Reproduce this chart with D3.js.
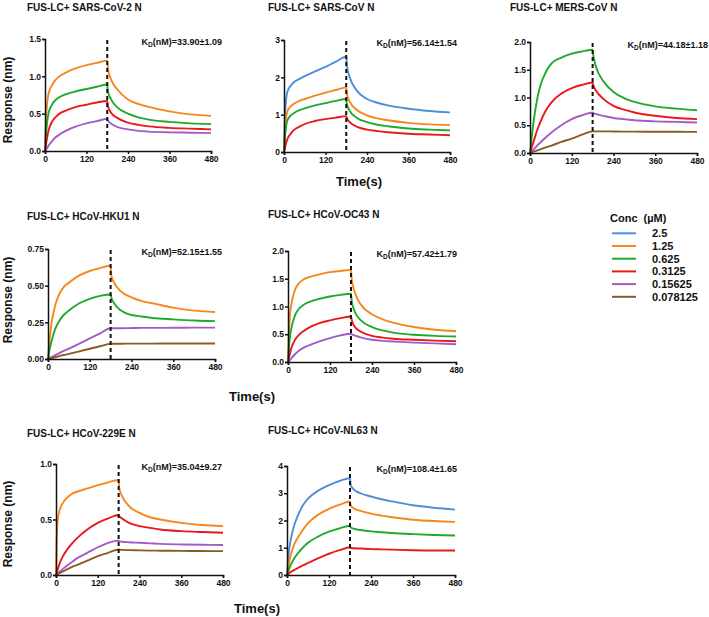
<!DOCTYPE html>
<html>
<head>
<meta charset="utf-8">
<script src="https://cdn.jsdelivr.net/npm/d3@7"></script>
<style>
  body { margin: 0; background: #fff; }
  text { font-family: Arial, "Liberation Sans", sans-serif; font-weight: bold; fill: #111; }
</style>
</head>
<body>
<div id="chart"></div>
<script>
// sample times (s), association 0-180, dissociation 180-480
const times = [0, 2, 5, 10, 20, 30, 45, 60, 90, 120, 150, 180, 182, 190, 210, 240, 270, 300, 360, 420, 480]
const xTicks = [0, 120, 240, 360, 480]
const concLabels = ["2.5", "1.25", "0.625", "0.3125", "0.15625", "0.078125"]
const concColors = ["#4d8fd6", "#f7861c", "#1faa2e", "#e8191c", "#a25cc6", "#8c5a26"]

// SARS-CoV-2
const sars2_125 = [0, 0.3, 0.58, 0.76, 0.88, 0.95, 1.01, 1.05, 1.11, 1.15, 1.18, 1.21, 1.1, 0.97, 0.82, 0.69, 0.63, 0.59, 0.53, 0.49, 0.47]
const sars2_0625 = [0, 0.15, 0.33, 0.5, 0.62, 0.68, 0.73, 0.76, 0.8, 0.83, 0.86, 0.89, 0.8, 0.7, 0.58, 0.5, 0.45, 0.42, 0.39, 0.37, 0.36]
const sars2_03125 = [0, 0.06, 0.15, 0.27, 0.39, 0.45, 0.51, 0.54, 0.59, 0.62, 0.65, 0.67, 0.6, 0.52, 0.44, 0.38, 0.35, 0.33, 0.31, 0.3, 0.29]
const sars2_015625 = [0, 0.01, 0.03, 0.07, 0.13, 0.18, 0.23, 0.27, 0.33, 0.37, 0.4, 0.43, 0.41, 0.37, 0.32, 0.29, 0.27, 0.26, 0.25, 0.245, 0.24]

// SARS-CoV
const sars_25 = [0, 0.7, 1.3, 1.62, 1.78, 1.88, 1.96, 2.03, 2.16, 2.28, 2.42, 2.55, 2.3, 2.0, 1.65, 1.42, 1.32, 1.25, 1.16, 1.1, 1.06]
const sars_125 = [0, 0.4, 0.85, 1.1, 1.23, 1.3, 1.37, 1.42, 1.51, 1.59, 1.66, 1.73, 1.55, 1.35, 1.13, 0.98, 0.9, 0.85, 0.78, 0.74, 0.72]
const sars_0625 = [0, 0.3, 0.62, 0.85, 0.98, 1.05, 1.12, 1.17, 1.25, 1.31, 1.37, 1.42, 1.28, 1.1, 0.92, 0.8, 0.73, 0.69, 0.63, 0.6, 0.58]
const sars_03125 = [0, 0.08, 0.2, 0.35, 0.5, 0.6, 0.68, 0.75, 0.83, 0.88, 0.92, 0.96, 0.9, 0.8, 0.68, 0.6, 0.56, 0.53, 0.49, 0.47, 0.45]

// MERS-CoV
const mers_0625 = [0, 0.1, 0.28, 0.55, 0.95, 1.22, 1.45, 1.6, 1.72, 1.79, 1.83, 1.86, 1.76, 1.55, 1.3, 1.1, 0.99, 0.92, 0.84, 0.8, 0.77]
const mers_03125 = [0, 0.04, 0.1, 0.2, 0.4, 0.56, 0.76, 0.9, 1.07, 1.17, 1.23, 1.27, 1.22, 1.12, 0.98, 0.85, 0.78, 0.73, 0.67, 0.63, 0.61]
const mers_015625 = [0, 0.01, 0.03, 0.06, 0.13, 0.19, 0.28, 0.36, 0.5, 0.61, 0.68, 0.73, 0.72, 0.7, 0.67, 0.63, 0.61, 0.59, 0.57, 0.56, 0.55]
const mers_0078 = [0, 0.005, 0.012, 0.024, 0.045, 0.066, 0.1, 0.13, 0.2, 0.26, 0.33, 0.39, 0.39, 0.39, 0.39, 0.388, 0.386, 0.385, 0.383, 0.382, 0.38]

// HCoV-HKU1
const hku1_125 = [0, 0.06, 0.14, 0.24, 0.36, 0.43, 0.49, 0.52, 0.57, 0.6, 0.62, 0.637, 0.57, 0.52, 0.46, 0.42, 0.395, 0.38, 0.35, 0.33, 0.32]
const hku1_0625 = [0, 0.03, 0.07, 0.12, 0.2, 0.25, 0.3, 0.33, 0.38, 0.41, 0.43, 0.44, 0.42, 0.38, 0.33, 0.3, 0.29, 0.28, 0.27, 0.262, 0.258]
const hku1_015625 = [0, 0.003, 0.007, 0.013, 0.025, 0.037, 0.055, 0.07, 0.105, 0.14, 0.175, 0.21, 0.21, 0.21, 0.21, 0.211, 0.212, 0.212, 0.213, 0.214, 0.214]
const hku1_0078 = [0, 0.001, 0.003, 0.006, 0.012, 0.018, 0.027, 0.035, 0.052, 0.07, 0.087, 0.103, 0.103, 0.104, 0.104, 0.105, 0.105, 0.105, 0.106, 0.106, 0.106]

// HCoV-OC43
const oc43_125 = [0, 0.4, 0.8, 1.05, 1.3, 1.41, 1.49, 1.53, 1.58, 1.62, 1.64, 1.66, 1.5, 1.27, 1.02, 0.86, 0.77, 0.71, 0.63, 0.58, 0.555]
const oc43_0625 = [0, 0.2, 0.42, 0.62, 0.84, 0.95, 1.03, 1.08, 1.14, 1.18, 1.21, 1.23, 1.1, 0.92, 0.74, 0.63, 0.57, 0.53, 0.49, 0.47, 0.46]
const oc43_03125 = [0, 0.06, 0.14, 0.26, 0.4, 0.48, 0.56, 0.62, 0.7, 0.75, 0.79, 0.82, 0.76, 0.64, 0.54, 0.47, 0.44, 0.42, 0.4, 0.385, 0.375]
const oc43_015625 = [0, 0.01, 0.03, 0.07, 0.14, 0.2, 0.26, 0.3, 0.37, 0.43, 0.48, 0.51, 0.5, 0.48, 0.44, 0.4, 0.38, 0.37, 0.35, 0.335, 0.32]

// HCoV-229E
const e229_125 = [0, 0.3, 0.5, 0.58, 0.65, 0.69, 0.73, 0.75, 0.78, 0.81, 0.835, 0.856, 0.78, 0.71, 0.62, 0.56, 0.52, 0.5, 0.47, 0.45, 0.44]
const e229_03125 = [0, 0.02, 0.05, 0.1, 0.17, 0.22, 0.28, 0.33, 0.41, 0.47, 0.51, 0.54, 0.53, 0.51, 0.47, 0.44, 0.425, 0.41, 0.395, 0.387, 0.38]
const e229_015625 = [0, 0.005, 0.013, 0.027, 0.055, 0.08, 0.115, 0.15, 0.2, 0.25, 0.29, 0.31, 0.305, 0.3, 0.295, 0.29, 0.285, 0.28, 0.275, 0.272, 0.27]
const e229_0078 = [0, 0.003, 0.008, 0.016, 0.032, 0.048, 0.07, 0.09, 0.13, 0.17, 0.2, 0.23, 0.228, 0.226, 0.224, 0.222, 0.22, 0.219, 0.217, 0.216, 0.215]

// HCoV-NL63
const nl63_25 = [0, 0.35, 0.8, 1.25, 1.8, 2.15, 2.55, 2.8, 3.1, 3.3, 3.45, 3.55, 3.3, 3.15, 3.0, 2.88, 2.78, 2.7, 2.56, 2.47, 2.4]
const nl63_125 = [0, 0.15, 0.38, 0.7, 1.1, 1.35, 1.65, 1.9, 2.22, 2.43, 2.58, 2.7, 2.55, 2.45, 2.35, 2.25, 2.18, 2.12, 2.03, 1.98, 1.95]
const nl63_0625 = [0, 0.07, 0.18, 0.35, 0.6, 0.78, 1.0, 1.18, 1.42, 1.59, 1.71, 1.81, 1.75, 1.7, 1.65, 1.6, 1.57, 1.54, 1.5, 1.47, 1.45]
const nl63_03125 = [0, 0.02, 0.05, 0.1, 0.18, 0.25, 0.35, 0.44, 0.62, 0.78, 0.91, 1.02, 1.0, 0.98, 0.97, 0.95, 0.94, 0.93, 0.91, 0.9, 0.9]

// panels: series are [concentration index, values]
const panels = [
  { title: "FUS-LC+ SARS-CoV-2 N", kd: "33.90±1.09", yTicks: [0, 0.5, 1.0, 1.5], fmt: ".1f",
    series: [[1, sars2_125], [2, sars2_0625], [3, sars2_03125], [4, sars2_015625]] },
  { title: "FUS-LC+ SARS-CoV N", kd: "56.14±1.54", yTicks: [0, 1, 2, 3], fmt: "d",
    series: [[0, sars_25], [1, sars_125], [2, sars_0625], [3, sars_03125]] },
  { title: "FUS-LC+ MERS-CoV N", kd: "44.18±1.18", yTicks: [0, 0.5, 1.0, 1.5, 2.0], fmt: ".1f",
    series: [[2, mers_0625], [3, mers_03125], [4, mers_015625], [5, mers_0078]] },
  { title: "FUS-LC+ HCoV-HKU1 N", kd: "52.15±1.55", yTicks: [0, 0.25, 0.5, 0.75], fmt: ".2f",
    series: [[1, hku1_125], [2, hku1_0625], [4, hku1_015625], [5, hku1_0078]] },
  { title: "FUS-LC+ HCoV-OC43 N", kd: "57.42±1.79", yTicks: [0, 0.5, 1.0, 1.5, 2.0], fmt: ".1f",
    series: [[1, oc43_125], [2, oc43_0625], [3, oc43_03125], [4, oc43_015625]] },
  { title: "FUS-LC+ HCoV-229E N", kd: "35.04±9.27", yTicks: [0, 0.5, 1.0], fmt: ".1f",
    series: [[1, e229_125], [3, e229_03125], [4, e229_015625], [5, e229_0078]] },
  { title: "FUS-LC+ HCoV-NL63 N", kd: "108.4±1.65", yTicks: [0, 1, 2, 3, 4], fmt: "d",
    series: [[0, nl63_25], [1, nl63_125], [2, nl63_0625], [3, nl63_03125]] }
]

// where each panel sits on the page
const layout = [
  { l: 45, r: 211, t: 39, b: 151, titleX: 27, titleY: 11, kdX: 222 },
  { l: 284, r: 450, t: 40, b: 152, titleX: 268, titleY: 11, kdX: 457 },
  { l: 530, r: 697, t: 42, b: 153, titleX: 510, titleY: 11, kdX: 708 },
  { l: 48, r: 215, t: 249, b: 359, titleX: 27, titleY: 220, kdX: 222 },
  { l: 288, r: 456, t: 251, b: 362, titleX: 268, titleY: 218, kdX: 457 },
  { l: 56, r: 223, t: 464, b: 575, titleX: 27, titleY: 437, kdX: 222 },
  { l: 287, r: 455, t: 466, b: 575, titleX: 268, titleY: 434, kdX: 457 }
]

const w = 709
const h = 617

const svg = d3.select("#chart")
  .append("svg")
  .attr("width", w)
  .attr("height", h)
  .style("background-color", "white")

panels.forEach((p, i) => {
  const pos = layout[i]
  const x = d3.scaleLinear().domain([0, 480]).range([pos.l, pos.r])
  const yMax = p.yTicks[p.yTicks.length - 1]
  const y = d3.scaleLinear().domain([0, yMax]).range([pos.b, pos.t])

  const g = svg.append("g")

  // title
  g.append("text")
    .attr("x", pos.titleX)
    .attr("y", pos.titleY)
    .style("font-size", "10px")
    .text(p.title)

  // curves
  const line = d3.line()
    .x((d, j) => x(times[j]))
    .y(d => y(d))
    .curve(d3.curveMonotoneX)

  p.series.forEach(s => {
    g.append("path")
      .datum(s[1])
      .attr("d", line)
      .attr("fill", "none")
      .attr("stroke", concColors[s[0]])
      .attr("stroke-width", 1.9)
  })

  // dashed line at end of association
  g.append("line")
    .attr("x1", x(180)).attr("x2", x(180))
    .attr("y1", y(yMax) + 1).attr("y2", y(0))
    .attr("stroke", "#111")
    .attr("stroke-width", 2)
    .attr("stroke-dasharray", "4,3")

  // axes
  const xAxis = d3.axisBottom(x).tickValues(xTicks).tickSize(3).tickPadding(2)
  const yAxis = d3.axisLeft(y).tickValues(p.yTicks).tickSize(3).tickPadding(1).tickFormat(d3.format(p.fmt))

  const gx = g.append("g")
    .attr("transform", `translate(0, ${pos.b})`)
    .call(xAxis)
  const gy = g.append("g")
    .attr("transform", `translate(${pos.l}, 0)`)
    .call(yAxis)

  ;[gx, gy].forEach(a => {
    a.select(".domain").attr("stroke", "#111").attr("stroke-width", 1.5)
    a.selectAll(".tick line").attr("stroke", "#111").attr("stroke-width", 1.5)
    a.selectAll(".tick text")
      .style("font-size", "8.5px")
      .style("font-family", "Arial, 'Liberation Sans', sans-serif")
      .style("font-weight", "bold")
      .attr("fill", "#111")
  })

  // K_D annotation
  const kd = g.append("text")
    .attr("x", pos.kdX)
    .attr("y", pos.t + 3)
    .attr("dy", "0.35em")
    .attr("text-anchor", "end")
    .style("font-size", "9px")
  kd.append("tspan").text("K")
  kd.append("tspan").attr("dy", "2").style("font-size", "6.5px").text("D")
  kd.append("tspan").attr("dy", "-2").text("(nM)=" + p.kd)
})

// y axis titles
const yTitles = [100, 300, 524]
yTitles.forEach(cy => {
  svg.append("text")
    .attr("transform", `translate(12, ${cy}) rotate(-90)`)
    .attr("text-anchor", "middle")
    .style("font-size", "12px")
    .text("Response (nm)")
})

// x axis titles
const xTitles = [[359, 186], [252, 401], [257, 613]]
xTitles.forEach(c => {
  svg.append("text")
    .attr("x", c[0])
    .attr("y", c[1])
    .attr("text-anchor", "middle")
    .style("font-size", "13px")
    .text("Time(s)")
})

// legend
const legend = svg.append("g")
legend.append("text")
  .attr("x", 610)
  .attr("y", 218)
  .attr("dy", "0.35em")
  .style("font-size", "11px")
  .style("white-space", "pre")
  .text("Conc  (µM)")

const ly = d3.scaleLinear().domain([0, 1]).range([233.3, 246])
concLabels.forEach((c, i) => {
  legend.append("line")
    .attr("x1", 612).attr("x2", 636)
    .attr("y1", ly(i)).attr("y2", ly(i))
    .attr("stroke", concColors[i])
    .attr("stroke-width", 2)
  legend.append("text")
    .attr("x", 652)
    .attr("y", ly(i))
    .attr("dy", "0.35em")
    .style("font-size", "11px")
    .text(c)
})
</script>
</body>
</html>
